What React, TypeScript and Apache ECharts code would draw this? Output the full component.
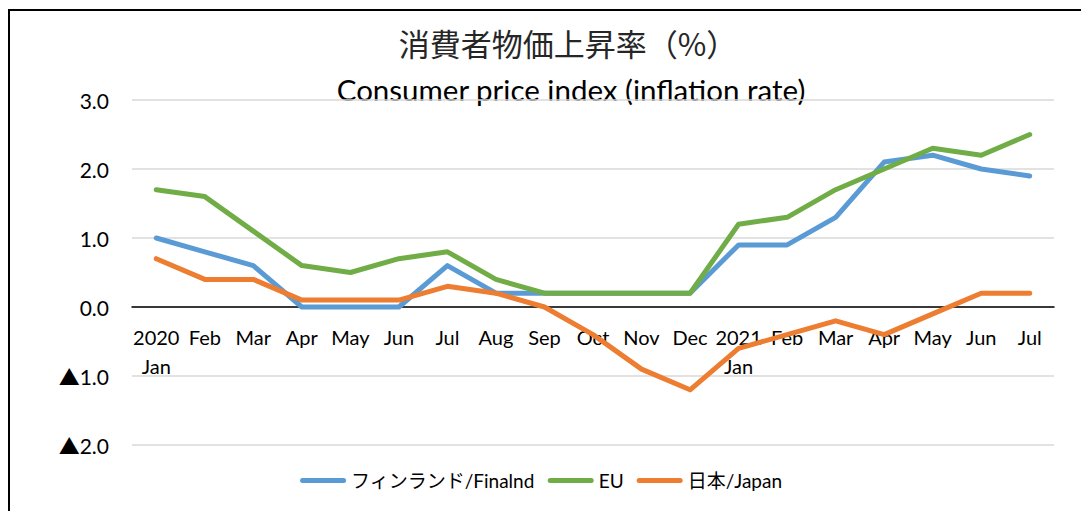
import React, { useEffect, useRef } from "react";
import * as echarts from "echarts";

const categories = [
  "2020\nJan", "Feb", "Mar", "Apr", "May", "Jun", "Jul", "Aug", "Sep", "Oct", "Nov", "Dec",
  "2021\nJan", "Feb", "Mar", "Apr", "May", "Jun", "Jul",
];
const finland = [1.0, 0.8, 0.6, 0.0, 0.0, 0.0, 0.6, 0.2, 0.2, 0.2, 0.2, 0.2, 0.9, 0.9, 1.3, 2.1, 2.2, 2.0, 1.9];
const eu = [1.7, 1.6, 1.1, 0.6, 0.5, 0.7, 0.8, 0.4, 0.2, 0.2, 0.2, 0.2, 1.2, 1.3, 1.7, 2.0, 2.3, 2.2, 2.5];
const japan = [0.7, 0.4, 0.4, 0.1, 0.1, 0.1, 0.3, 0.2, 0.0, -0.4, -0.9, -1.2, -0.6, -0.4, -0.2, -0.4, -0.1, 0.2, 0.2];
const seriesNames = ["フィンランド/Finalnd", "EU", "日本/Japan"];
const titleJa = "消費者物価上昇率（%）";
const titleEn = "Consumer price index (inflation rate)";

const FONT = "Lato, 'Noto Sans CJK JP', sans-serif";
const JFONT = "'Noto Sans CJK JP', Lato, sans-serif";
const LEGEND_ICON =
  "path://M2.5,0 H43.5 A2.5,2.5 0 0 1 43.5,5 H2.5 A2.5,2.5 0 0 1 2.5,0 Z";

export default function App() {
  const ref = useRef<HTMLDivElement>(null);
  useEffect(() => {
    if (!ref.current) return;
    const chart = echarts.init(ref.current, null, { renderer: "svg" });
    const mk = (name: string, data: number[], color: string) => ({
      name,
      type: "line",
      data,
      symbol: "none",
      color,
      lineStyle: { width: 5, color, cap: "round", join: "round" },
    });
    chart.setOption({
      animation: false,
      backgroundColor: "#ffffff",
      grid: { left: 132, right: 27, top: 100, bottom: 66, outerBoundsMode: "none", containLabel: false },
      graphic: [
        {
          type: "rect",
          shape: { x: 9, y: 10, width: 1200, height: 700 },
          style: { fill: "none", stroke: "#000", lineWidth: 2 },
          silent: true,
        },
        {
          type: "text",
          x: 568,
          y: 42,
          style: {
            text: titleJa,
            font: `31px ${JFONT}`,
            fill: "#262626",
            textAlign: "center",
            textVerticalAlign: "middle",
          },
        },
        {
          type: "text",
          x: 571,
          y: 89,
          style: {
            text: titleEn,
            font: `29.5px ${FONT}`,
            fill: "#000",
            textAlign: "center",
            textVerticalAlign: "middle",
          },
        },
      ],
      legend: {
        bottom: 16,
        left: "center",
        icon: LEGEND_ICON,
        itemWidth: 46,
        itemHeight: 5,
        itemGap: 13,
        textStyle: { fontSize: 19, fontFamily: FONT, color: "#000" },
        data: seriesNames,
      },
      xAxis: {
        type: "category",
        data: categories,
        boundaryGap: true,
        offset: -138,
        axisLine: { onZero: false, lineStyle: { color: "#000", width: 1.5 } },
        axisTick: { show: false },
        axisLabel: {
          interval: 0,
          margin: 15,
          fontSize: 20,
          fontFamily: FONT,
          color: "#000",
          lineHeight: 29,
        },
      },
      yAxis: {
        type: "value",
        min: -2,
        max: 3,
        interval: 1,
        axisLine: { show: false },
        axisTick: { show: false },
        splitLine: { lineStyle: { color: "#d9d9d9", width: 1.5 } },
        axisLabel: {
          margin: 23,
          fontSize: 21,
          fontFamily: FONT,
          color: "#000",
          formatter: (v: number) => (v < 0 ? "▲" + Math.abs(v).toFixed(1) : v.toFixed(1)),
        },
      },
      series: [
        mk(seriesNames[0], finland, "#5B9BD5"),
        mk(seriesNames[1], eu, "#70AD47"),
        mk(seriesNames[2], japan, "#ED7D31"),
      ],
    });
    return () => chart.dispose();
  }, []);
  return (
    <div
      ref={ref}
      style={{ position: "absolute", left: 0, top: 0, width: 1081, height: 511 }}
    />
  );
}
